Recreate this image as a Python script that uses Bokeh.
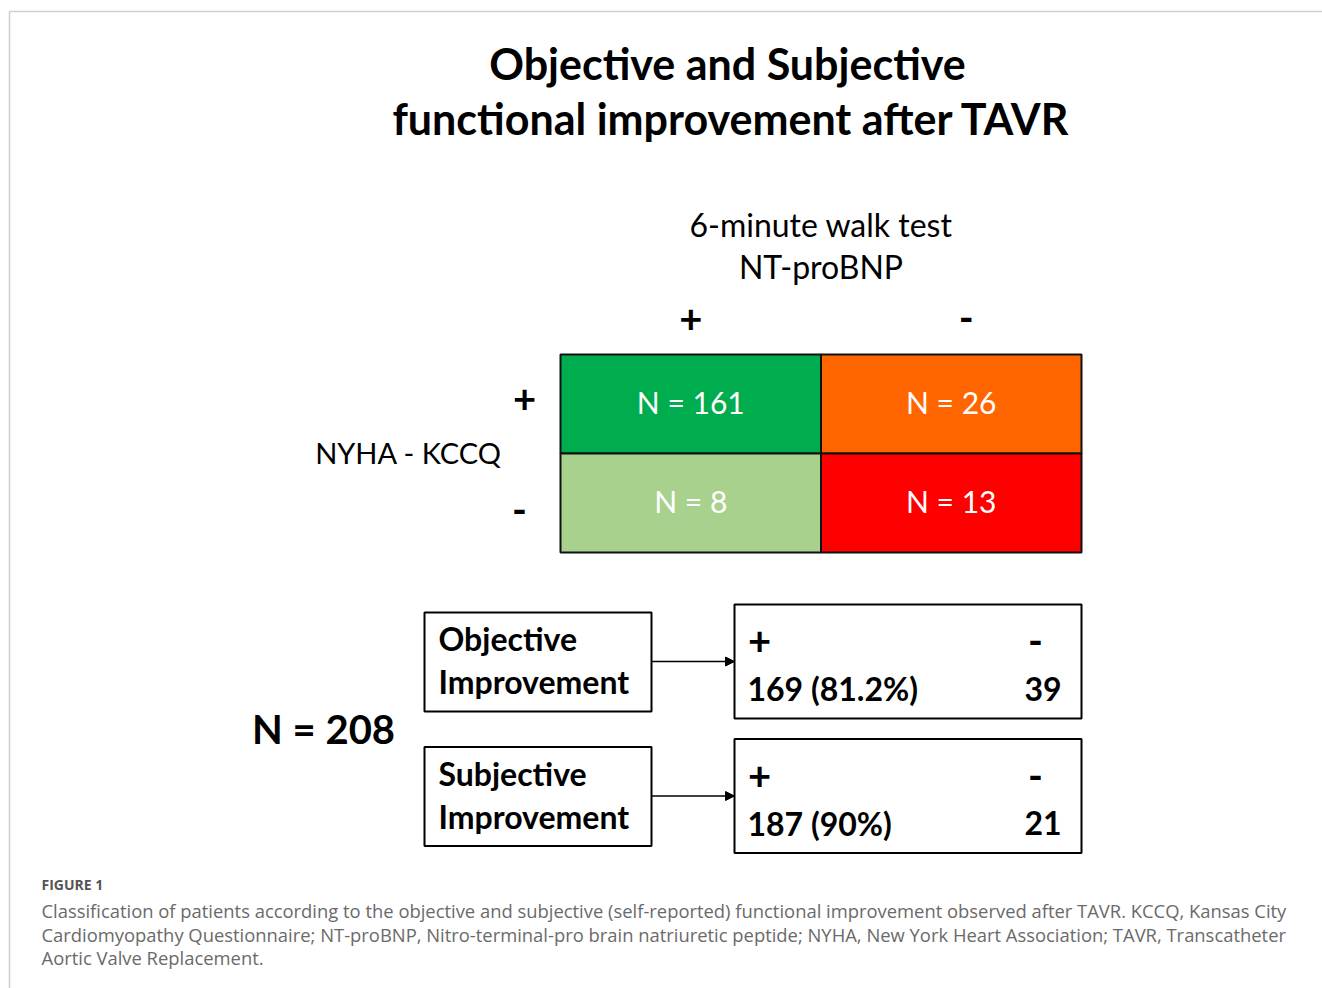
from bokeh.plotting import figure
from bokeh.models import Range1d, Arrow, NormalHead, ColumnDataSource
from bokeh.core.properties import value
from bokeh.embed import file_html
from bokeh.resources import INLINE

# ---------------- data ----------------
title_lines = ["Objective and Subjective", "functional improvement after TAVR"]
col_header = ["6-minute walk test", "NT-proBNP"]
col_signs = ["+", "-"]
row_signs = ["+", "-"]
row_header = "NYHA - KCCQ"
cell_counts = [[161, 26], [8, 13]]
cell_colors = [["#00AD4E", "#FF6600"], ["#A9D18E", "#FF0000"]]
total_n = 208
outcome_names = [["Objective", "Improvement"], ["Subjective", "Improvement"]]
outcome_pos = ["169 (81.2%)", "187 (90%)"]
outcome_neg = ["39", "21"]
fig_label = "FIGURE 1"
caption_lines = [
    "Classification of patients according to the objective and subjective (self-reported) functional improvement observed after TAVR. KCCQ, Kansas City",
    "Cardiomyopathy Questionnaire; NT-proBNP, Nitro-terminal-pro brain natriuretic peptide; NYHA, New York Heart Association; TAVR, Transcatheter",
    "Aortic Valve Replacement.",
]

# ---------------- layout ----------------
W, H = 1322, 988
p = figure(width=W, height=H, output_backend="svg", toolbar_location=None,
           x_range=Range1d(0, W), y_range=Range1d(H, 0),
           min_border=0, outline_line_color=None)
p.axis.visible = False
p.grid.visible = False
p.background_fill_color = "white"
p.border_fill_color = "white"

DF = value("Lato")
CF = value("Open Sans")

# frame
p.line(x=[1330, 9, 9], y=[11, 11, 1000], line_color="#cfcfcf", line_width=1.5)

# title
p.text(x=[727, 731], y=[63, 118], text=title_lines, text_font=DF, text_font_style="bold",
       text_font_size="43px", text_align="center", text_baseline="middle", text_color="#000000")

# grid geometry
gx0, gy0, cw, ch = 560, 354, 260.5, 99
# column header
p.text(x=[gx0 + cw] * 2, y=[224, 266], text=col_header, text_font=DF, text_font_size="32px",
       text_align="center", text_baseline="middle", text_color="#000000")
p.text(x=[gx0 + cw * 0.5, gx0 + cw * 1.5 + 15], y=[318, 317], text=col_signs, text_font=DF,
       text_font_style="bold", text_font_size="40px", text_align="center", text_baseline="middle",
       text_color="#000000")
p.text(x=[524, 519], y=[398, 509], text=row_signs, text_font=DF, text_font_style="bold",
       text_font_size="40px", text_align="center", text_baseline="middle", text_color="#000000")
p.text(x=[408], y=[452], text=[row_header], text_font=DF, text_font_size="29px",
       text_align="center", text_baseline="middle", text_color="#000000")

cells = dict(left=[], right=[], top=[], bottom=[], color=[], label=[], cx=[], cy=[])
for r in range(2):
    for c in range(2):
        cells["left"].append(gx0 + c * cw)
        cells["right"].append(gx0 + (c + 1) * cw)
        cells["top"].append(gy0 + r * ch)
        cells["bottom"].append(gy0 + (r + 1) * ch)
        cells["color"].append(cell_colors[r][c])
        cells["label"].append(f"N = {cell_counts[r][c]}")
        cells["cx"].append(gx0 + (c + 0.5) * cw)
        cells["cy"].append(gy0 + (r + 0.5) * ch - 2.5)
cs = ColumnDataSource(cells)
p.quad(left="left", right="right", top="top", bottom="bottom", fill_color="color",
       line_color="#111111", line_width=2, source=cs)
p.text(x="cx", y="cy", text="label", text_font=DF, text_font_size="30px", text_align="center",
       text_baseline="middle", text_color="white", source=cs)

# bottom part
p.text(x=[323], y=[728], text=[f"N = {total_n}"], text_font=DF, text_font_style="bold",
       text_font_size="40px", text_align="center", text_baseline="middle", text_color="#000000")

for i in range(2):
    dy = i * 134.5
    # name box
    p.quad(left=[424], right=[651], top=[612 + dy], bottom=[711 + dy], fill_color=None,
           line_color="#000000", line_width=2)
    p.text(x=[438, 438], y=[638 + dy, 681 + dy], text=outcome_names[i], text_font=DF,
           text_font_style="bold", text_font_size="32px", text_align="left",
           text_baseline="middle", text_color="#000000")
    # arrow
    p.add_layout(Arrow(x_start=651, y_start=661 + dy, x_end=734, y_end=661 + dy,
                       line_color="#000000", line_width=1.5,
                       end=NormalHead(size=9, fill_color="#000000", line_color="#000000")))
    # result box
    p.quad(left=[734], right=[1081], top=[604 + dy], bottom=[718 + dy], fill_color=None,
           line_color="#000000", line_width=2)
    p.text(x=[759, 1035], y=[640 + dy, 640 + dy], text=["+", "-"], text_font=DF,
           text_font_style="bold", text_font_size="40px", text_align="center",
           text_baseline="middle", text_color="#000000")
    p.text(x=[747], y=[688 + dy], text=[outcome_pos[i]], text_font=DF, text_font_style="bold",
           text_font_size="32px", text_align="left", text_baseline="middle", text_color="#000000")
    p.text(x=[1061], y=[688 + dy], text=[outcome_neg[i]], text_font=DF, text_font_style="bold",
           text_font_size="32px", text_align="right", text_baseline="middle", text_color="#000000")

# caption
p.text(x=[41], y=[884], text=[fig_label], text_font=CF, text_font_style="bold",
       text_font_size="14px", text_align="left", text_baseline="middle", text_color="#555555")
p.text(x=[41] * 3, y=[910, 934, 957], text=caption_lines, text_font=CF,
       text_font_size="18.4px", text_align="left", text_baseline="middle", text_color="#6a6a6a")

open("out.html", "w").write(file_html(p, INLINE))
